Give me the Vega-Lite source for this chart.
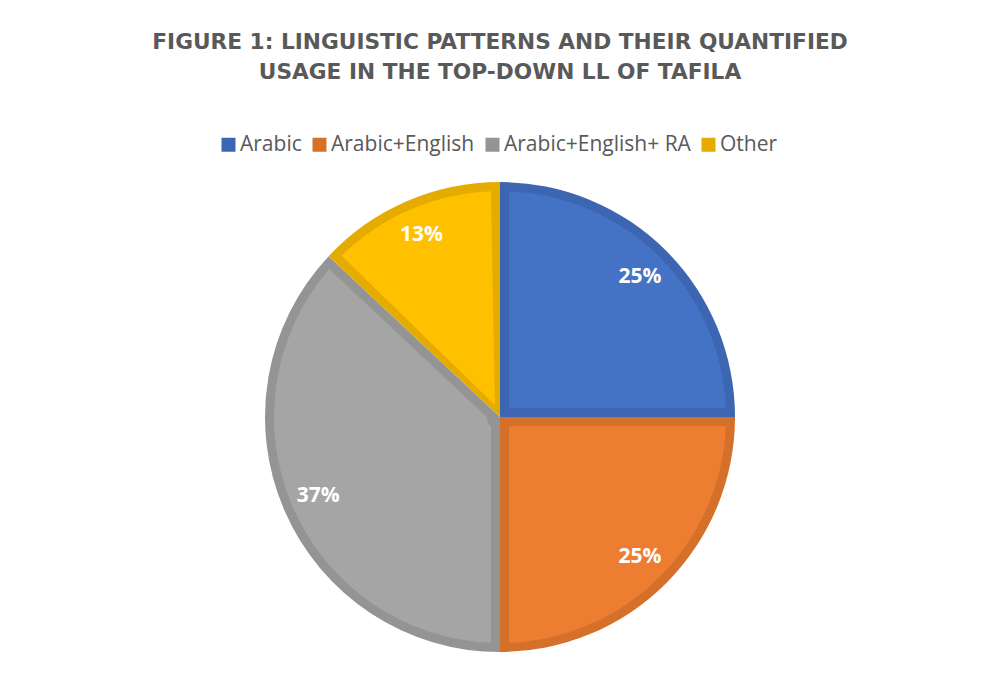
{
  "$schema": "https://vega.github.io/schema/vega-lite/v6.json",
  "autosize": {"type": "none"},
  "padding": {"left": 8, "top": 5, "right": 0, "bottom": 0},
  "width": 984,
  "height": 824,
  "background": "#ffffff",
  "title": {
    "text": ["FIGURE 1: LINGUISTIC PATTERNS AND THEIR QUANTIFIED", "USAGE IN THE TOP-DOWN LL OF TAFILA"],
    "font": "DejaVu Sans",
    "fontSize": 21.7,
    "fontWeight": "bold",
    "color": "#595959",
    "lineHeight": 30,
    "anchor": "middle",
    "frame": "group",
    "offset": -79
  },
  "data": {
    "values": [
      {"category": "Arabic", "value": 0.25},
      {"category": "Arabic+English", "value": 0.25},
      {"category": "Arabic+English+ RA", "value": 0.37},
      {"category": "Other", "value": 0.13}
    ]
  },
  "layer": [
    {
      "mark": {"type": "arc", "radius": 235},
      "encoding": {
        "theta": {"field": "value", "type": "quantitative", "stack": true},
        "order": {"field": "category", "type": "ordinal", "sort": "ascending"},
        "color": {
          "field": "category",
          "type": "nominal",
          "scale": {
            "domain": ["Arabic", "Arabic+English", "Arabic+English+ RA", "Other"],
            "range": ["#3C66B2", "#D5702B", "#949494", "#E5AC00"]
          },
          "legend": {
            "orient": "none",
            "legendX": 210,
            "legendY": 129,
            "direction": "horizontal",
            "title": null,
            "symbolType": "square",
            "symbolSize": 196,
            "symbolStrokeWidth": 0,
            "labelFont": "Open Sans",
            "labelFontSize": 21,
            "labelColor": "#595959",
            "labelOffset": 1,
            "labelLimit": 400,
            "columnPadding": 7
          }
        }
      }
    },
    {
      "mark": {"type": "arc", "radius": 226, "radius2": 13, "padAngle": 0.0795},
      "encoding": {
        "theta": {"field": "value", "type": "quantitative", "stack": true},
        "order": {"field": "category", "type": "ordinal", "sort": "ascending"},
        "fill": {
          "field": "category",
          "type": "nominal",
          "scale": {
            "domain": ["Arabic", "Arabic+English", "Arabic+English+ RA", "Other"],
            "range": ["#4472C4", "#ED7D31", "#A5A5A5", "#FFC000"]
          },
          "legend": null
        }
      }
    },
    {
      "mark": {"type": "text", "radius": 198, "font": "Open Sans", "fontSize": 21, "fontWeight": "bold", "fill": "#ffffff"},
      "encoding": {
        "theta": {"field": "value", "type": "quantitative", "stack": true},
        "order": {"field": "category", "type": "ordinal", "sort": "ascending"},
        "detail": {"field": "category", "type": "nominal"},
        "text": {"field": "value", "type": "quantitative", "format": ".0%"}
      }
    }
  ],
  "config": {
    "view": {"stroke": "#d9d9d9", "strokeWidth": 1}
  }
}
